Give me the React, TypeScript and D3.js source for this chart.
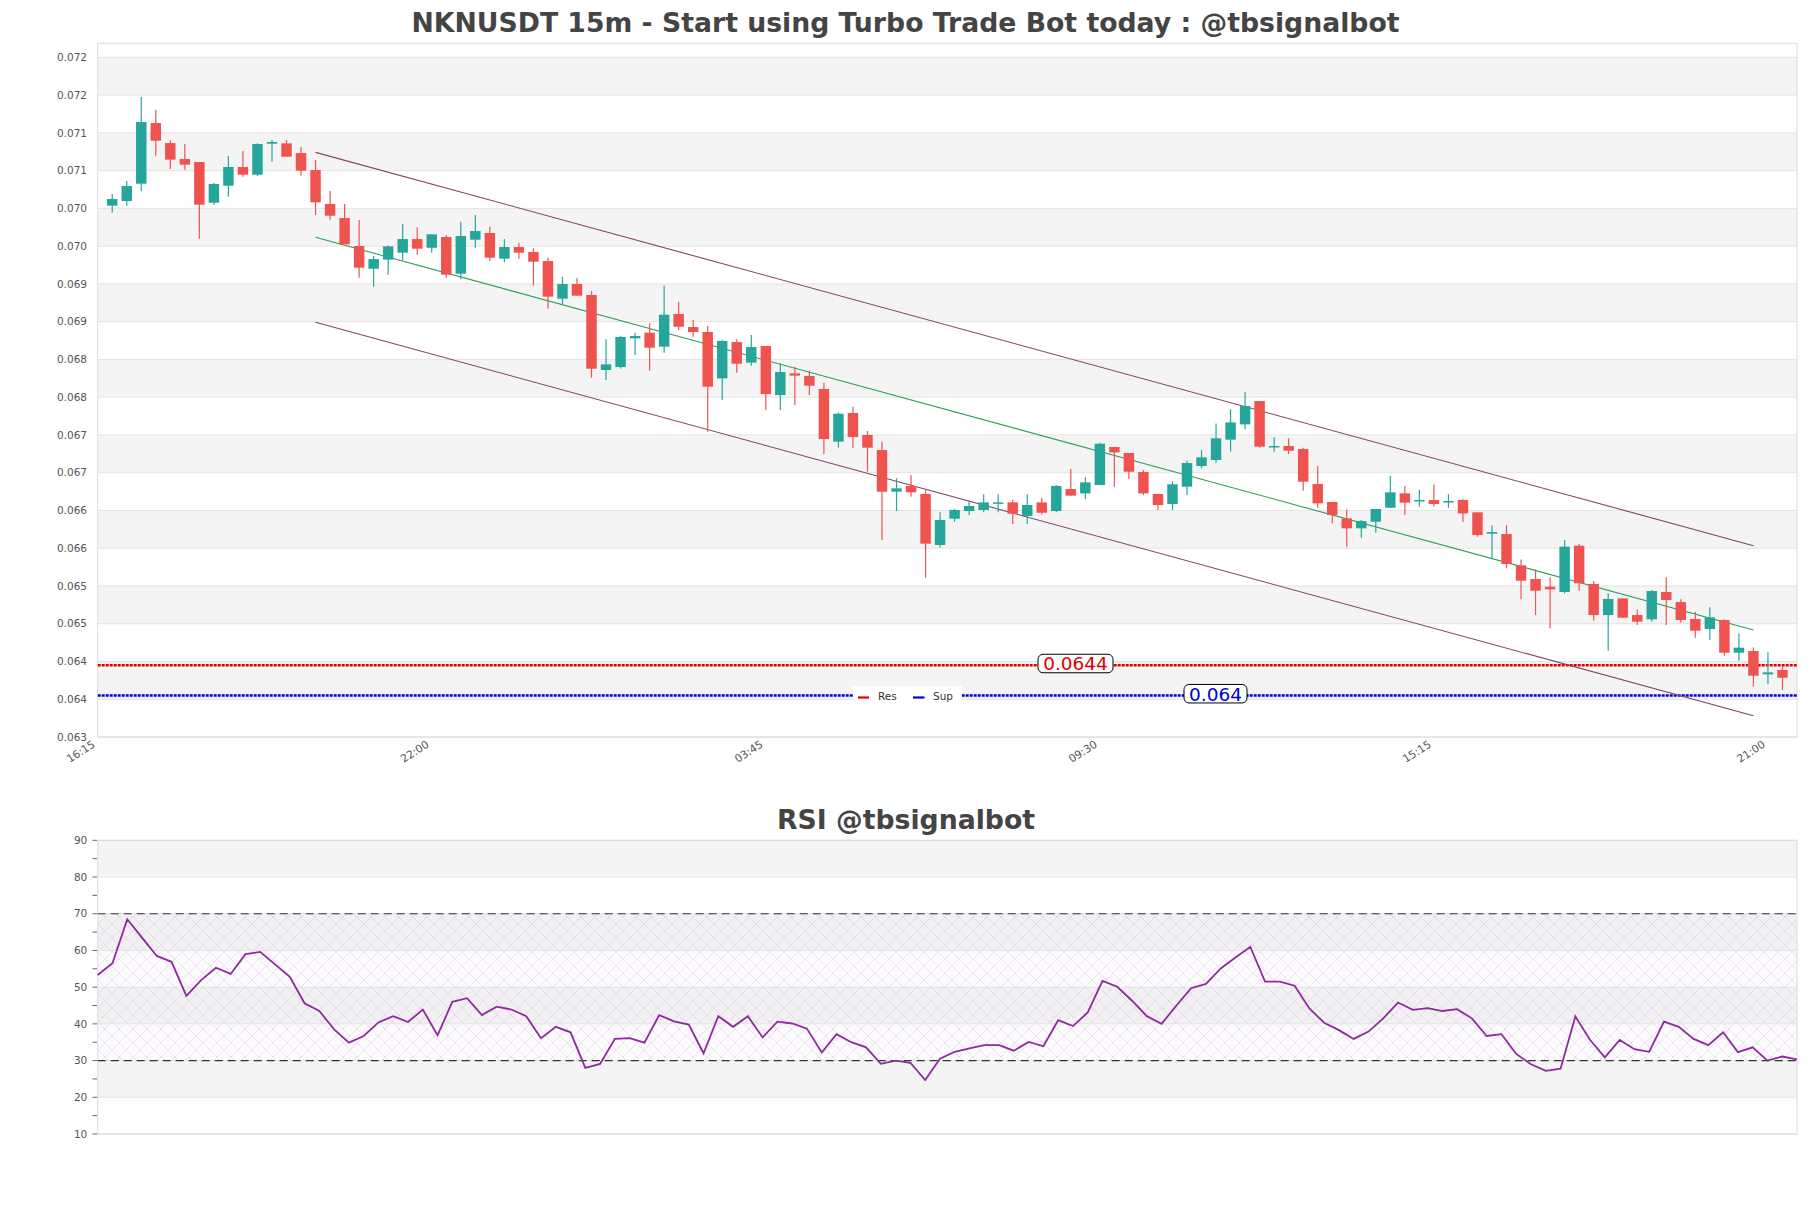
import React from "react";
import * as d3 from "d3";

const W = 1811;
const H = 1208;

// ---- Data ----
const xTickLabels = ["16:15", "22:00", "03:45", "09:30", "15:15", "21:00"];
const xTickPos = [0, 23, 46, 69, 92, 115]; // axis slots (15m steps from 16:15)

const yTickValues = [0.06345, 0.06395, 0.06445, 0.06495, 0.06545, 0.06595, 0.06645, 0.06695, 0.06745, 0.06795, 0.06845, 0.06895, 0.06945, 0.06995, 0.07045, 0.07095, 0.07145, 0.07195, 0.07245];
const yTickLabels = ["0.063", "0.064", "0.064", "0.065", "0.065", "0.066", "0.066", "0.067", "0.067", "0.068", "0.068", "0.069", "0.069", "0.070", "0.070", "0.071", "0.071", "0.072", "0.072"];

const open = [0.070486,0.070547,0.070777,0.07158,0.071315,0.071104,0.071064,0.070525,0.07075,0.070998,0.070896,0.071307,0.071311,0.071183,0.070958,0.070508,0.070322,0.069952,0.069651,0.069771,0.069863,0.070044,0.069929,0.070071,0.069585,0.070035,0.070124,0.069784,0.069938,0.069872,0.069753,0.069254,0.069448,0.069303,0.06831,0.068349,0.068729,0.068804,0.068619,0.069051,0.068879,0.068813,0.068199,0.06868,0.068407,0.068627,0.067979,0.068265,0.06823,0.068058,0.067361,0.06774,0.067449,0.06725,0.066698,0.066774,0.066668,0.065992,0.066341,0.066443,0.066456,0.06654,0.066557,0.066376,0.066557,0.066443,0.066734,0.066676,0.066787,0.06729,0.067211,0.066959,0.066668,0.066535,0.066765,0.067038,0.067118,0.067387,0.06759,0.067899,0.067294,0.067303,0.067263,0.0668,0.066562,0.066345,0.066213,0.066301,0.066486,0.066676,0.066579,0.066588,0.066566,0.066588,0.066425,0.066142,0.066138,0.065723,0.065542,0.06544,0.06537,0.065983,0.065476,0.065065,0.065286,0.065065,0.065008,0.06537,0.065237,0.065012,0.06488,0.064999,0.064566,0.064589,0.06428,0.064337];
const high = [0.07064,0.070812,0.071925,0.071752,0.071351,0.071302,0.071064,0.070786,0.071143,0.07121,0.071311,0.071355,0.071355,0.071262,0.07109,0.07068,0.070508,0.070296,0.069819,0.06996,0.070243,0.070199,0.070106,0.070097,0.070274,0.070362,0.070208,0.070044,0.069991,0.069921,0.069797,0.069545,0.069528,0.069356,0.068716,0.06876,0.068804,0.068928,0.069426,0.069214,0.068972,0.068892,0.068707,0.068716,0.068773,0.068627,0.068398,0.068354,0.068301,0.068142,0.067745,0.067824,0.067502,0.067361,0.066875,0.066919,0.066729,0.066425,0.066469,0.066566,0.066663,0.066663,0.066588,0.066663,0.066619,0.066787,0.066999,0.066888,0.067347,0.06729,0.067211,0.066985,0.066668,0.06684,0.067109,0.06725,0.067603,0.067789,0.068018,0.067899,0.067418,0.067405,0.067281,0.067038,0.066562,0.066464,0.066323,0.066469,0.066906,0.066773,0.06672,0.066795,0.066667,0.066601,0.066425,0.066253,0.066253,0.065802,0.06567,0.065564,0.066058,0.066005,0.065515,0.065352,0.065286,0.06514,0.065396,0.065564,0.065273,0.065109,0.065167,0.065008,0.064822,0.064637,0.064571,0.064381];
const low = [0.070393,0.070486,0.07068,0.071148,0.070971,0.070962,0.070049,0.070499,0.070605,0.07087,0.070878,0.071068,0.071134,0.070883,0.070362,0.0703,0.069974,0.069532,0.069413,0.069572,0.069766,0.069837,0.069863,0.069532,0.06951,0.069929,0.069757,0.06974,0.069784,0.069426,0.069122,0.069184,0.069294,0.068208,0.068177,0.068327,0.068508,0.068301,0.068539,0.068839,0.068751,0.067493,0.067912,0.068274,0.068367,0.06778,0.06778,0.067846,0.067979,0.067197,0.067281,0.067281,0.066963,0.066058,0.066443,0.066632,0.06556,0.065957,0.066301,0.066389,0.066425,0.066425,0.06627,0.06627,0.066398,0.066425,0.066646,0.066602,0.066787,0.066765,0.066866,0.066654,0.066456,0.066456,0.066654,0.067007,0.067082,0.067228,0.067524,0.067281,0.067228,0.067197,0.066712,0.066486,0.066279,0.06597,0.066089,0.066155,0.066486,0.066389,0.0665,0.0665,0.066486,0.066301,0.066102,0.065807,0.065683,0.065273,0.065065,0.064889,0.065352,0.065387,0.06499,0.064593,0.06503,0.064933,0.064977,0.064933,0.064964,0.064765,0.064734,0.064527,0.06446,0.064116,0.064147,0.064072];
const close = [0.070574,0.070746,0.071594,0.071346,0.071095,0.071029,0.070499,0.070773,0.070998,0.070896,0.071302,0.071329,0.071134,0.070949,0.07053,0.070353,0.069974,0.069665,0.069779,0.069947,0.070044,0.069916,0.070106,0.069572,0.070084,0.07015,0.069797,0.069938,0.069863,0.069744,0.069281,0.069448,0.069294,0.068327,0.068385,0.068747,0.06876,0.068605,0.069042,0.068883,0.068813,0.068089,0.068694,0.068393,0.068614,0.067992,0.068283,0.068235,0.068102,0.067396,0.067731,0.067422,0.067281,0.066698,0.066743,0.06669,0.06601,0.066323,0.066456,0.066509,0.066557,0.066557,0.066407,0.066522,0.06642,0.066774,0.066646,0.066822,0.067334,0.067219,0.066963,0.066676,0.066522,0.066796,0.067078,0.067153,0.067405,0.067616,0.067833,0.067294,0.067303,0.067241,0.066831,0.066544,0.066389,0.066213,0.06631,0.066469,0.06669,0.066553,0.066588,0.066535,0.066575,0.066411,0.066125,0.066164,0.065741,0.06552,0.065387,0.065405,0.06597,0.065485,0.065065,0.065277,0.06503,0.064977,0.065383,0.065264,0.064999,0.064858,0.065034,0.064566,0.064633,0.064262,0.064306,0.064235];

// regression channel (candle index -> price)
const channelIdx = [14, 113];
const channelUpper = [0.071192, 0.065983];
const channelMid = [0.070067, 0.064867];
const channelLower = [0.068941, 0.063732];

const resistance = 0.0644;
const support = 0.064;
const resLabel = "0.0644";
const supLabel = "0.064";

const rsi = [53.3,56.5,68.5,63.5,58.5,56.9,47.6,51.9,55.3,53.6,59.0,59.6,56.2,52.8,45.6,43.5,38.5,34.9,36.7,40.4,42.1,40.5,43.9,36.9,46.0,47.0,42.4,44.7,43.9,42.1,36.1,39.2,37.7,28.0,29.1,35.9,36.1,34.9,42.4,40.7,39.8,32.0,42.1,39.2,42.1,36.3,40.6,40.1,38.7,32.2,37.2,35.0,33.6,29.1,30.0,29.4,24.7,30.5,32.4,33.3,34.2,34.2,32.7,35.1,33.9,41.0,39.4,43.1,51.7,50.1,46.3,42.1,40.0,45.0,49.7,50.9,55.1,58.1,61.0,51.5,51.5,50.4,44.2,40.3,38.3,35.9,37.9,41.5,45.8,43.8,44.3,43.5,44.0,41.5,36.7,37.2,31.8,29.0,27.2,27.8,42.0,35.6,30.9,35.6,33.1,32.4,40.6,39.2,35.9,34.2,37.7,32.3,33.6,30.0,31.1,30.3];
const rsiTicks = [10, 20, 30, 40, 50, 60, 70, 80, 90];

const UP = "#26a69a";
const DOWN = "#ef5350";
const FONT = "DejaVu Sans, Verdana, sans-serif";

export default function App() {
  const L = 97.7, R = 1797;
  const mTop = 43.3, mBot = 737;
  const rTop = 840.3, rBot = 1134;

  const x = d3.scaleLinear().domain([0, open.length + 1]).range([L, R]);
  const y = d3.scaleLinear().domain([0.06345, 0.072636]).range([mBot, mTop]);
  const rx = d3.scaleLinear().domain([0, rsi.length - 1]).range([L, R]);
  const ry = d3.scaleLinear().domain([10, 90]).range([rBot, rTop]);

  const step = x(1) - x(0);
  const bw = step * 0.72;

  const rsiLine = d3.line<number>().x((_, i) => rx(i)).y((d) => ry(d))(rsi) || "";

  const chan = (vals: number[]) =>
    d3.line<number>().x((_, i) => x(channelIdx[i] + 1)).y((d) => y(d))(vals) || "";

  const bands = [] as React.ReactNode[];
  for (let k = 0; k < yTickValues.length - 1; k++) {
    if (k % 2 === 1) {
      const y0 = y(yTickValues[k + 1]);
      const y1 = y(yTickValues[k]);
      bands.push(<rect key={"b" + k} x={L} y={y0} width={R - L} height={y1 - y0} fill="#f4f4f4" />);
    }
  }

  const rsiBands = [] as React.ReactNode[];
  for (let k = 0; k < rsiTicks.length - 1; k++) {
    if (k % 2 === 1) {
      const y0 = ry(rsiTicks[k + 1]);
      const y1 = ry(rsiTicks[k]);
      rsiBands.push(<rect key={"rb" + k} x={L} y={y0} width={R - L} height={y1 - y0} fill="#f4f4f4" />);
    }
  }

  const minorR = d3.range(10, 91, 5);

  return (
    <svg width={W} height={H} style={{ position: "absolute", left: 0, top: 0, background: "#fff" }} fontFamily={FONT}>
      <defs>
        <pattern id="hatch" width="14" height="14" patternUnits="userSpaceOnUse">
          <path d="M0,0 L14,14 M14,0 L0,14" stroke="#b4abbd" strokeWidth="0.6" opacity="0.5" fill="none" />
        </pattern>
        <clipPath id="mainClip">
          <rect x={L} y={mTop} width={R - L} height={mBot - mTop} />
        </clipPath>
      </defs>
      <rect x={0} y={0} width={W} height={H} fill="#fff" />

      {/* Title */}
      <text x={905.5} y={32.3} textAnchor="middle" fontSize={26.7} fontWeight="bold" fill="#444">
        NKNUSDT 15m - Start using Turbo Trade Bot today : @tbsignalbot
      </text>

      {/* Main panel background */}
      {bands}
      {yTickValues.map((v, k) => (
        <line key={"g" + k} x1={L} x2={R} y1={y(v)} y2={y(v)} stroke="#e3e3e3" strokeWidth={1} />
      ))}
      <rect x={L} y={mTop} width={R - L} height={mBot - mTop} fill="none" stroke="#dcdcdc" strokeWidth={1} />

      {yTickValues.map((v, k) => (
        <text key={"yl" + k} x={87} y={y(v)} dy="0.35em" textAnchor="end" fontSize={10.5} fill="#555">
          {yTickLabels[k]}
        </text>
      ))}

      {xTickPos.map((p, k) => (
        <text key={"xl" + k} transform={`translate(${x(p) - 4},${mBot + 6}) rotate(-33)`} textAnchor="end" dy="0.35em" fontSize={10.8} fill="#555">
          {xTickLabels[k]}
        </text>
      ))}

      <g clipPath="url(#mainClip)">
        {/* support/resistance */}
        <line x1={L} x2={R} y1={y(resistance)} y2={y(resistance)} stroke="#e00000" strokeWidth={2.6} strokeDasharray="3,1" />
        <line x1={L} x2={R} y1={y(support)} y2={y(support)} stroke="#0000d0" strokeWidth={2.6} strokeDasharray="3,1" />

        {/* channel */}
        <path d={chan(channelUpper)} stroke="#844463" strokeWidth={1.1} fill="none" />
        <path d={chan(channelLower)} stroke="#844463" strokeWidth={1.1} fill="none" />
        <path d={chan(channelMid)} stroke="#2f9e55" strokeWidth={1.1} fill="none" />

        {/* candles */}
        {open.map((o, i) => {
          const c = close[i];
          const col = c >= o ? UP : DOWN;
          const cx = x(i + 1);
          const top = y(Math.max(o, c));
          const bot = y(Math.min(o, c));
          return (
            <g key={"c" + i}>
              <line x1={cx} x2={cx} y1={y(high[i])} y2={y(low[i])} stroke={col} strokeWidth={1.2} />
              <rect x={cx - bw / 2} y={top} width={bw} height={Math.max(1.5, bot - top)} fill={col} />
            </g>
          );
        })}
      </g>

      {/* level labels */}
      <g>
        <rect x={1038} y={y(resistance) - 11} width={75} height={18.5} rx={5} fill="#fff" stroke="#000" strokeWidth={1} />
        <text x={1075.5} y={y(resistance) - 1.5} dy="0.36em" textAnchor="middle" fontSize={18.5} fill="#e00000">{resLabel}</text>
        <rect x={1184} y={y(support) - 11} width={63} height={18.5} rx={5} fill="#fff" stroke="#000" strokeWidth={1} />
        <text x={1215.5} y={y(support) - 1.5} dy="0.36em" textAnchor="middle" fontSize={18.5} fill="#0000d0">{supLabel}</text>
      </g>

      {/* legend */}
      <g>
        <rect x={853} y={686} width={109} height={19} fill="#fff" />
        <line x1={858} x2={869} y1={697.5} y2={697.5} stroke="#e00000" strokeWidth={2.2} />
        <text x={878} y={696} dy="0.35em" fontSize={10.5} fill="#333">Res</text>
        <line x1={913} x2={924.5} y1={697.5} y2={697.5} stroke="#0000d0" strokeWidth={2.2} />
        <text x={933} y={696} dy="0.35em" fontSize={10.5} fill="#333">Sup</text>
      </g>

      {/* RSI panel */}
      <text x={906} y={829.3} textAnchor="middle" fontSize={26.7} fontWeight="bold" fill="#444">
        RSI @tbsignalbot
      </text>
      {rsiBands}
      <rect x={L} y={ry(70)} width={R - L} height={ry(30) - ry(70)} fill="url(#hatch)" />
      <rect x={L} y={ry(70)} width={R - L} height={ry(30) - ry(70)} fill="#eee0f2" opacity={0.15} />
      {rsiTicks.map((v) => (
        <line key={"rg" + v} x1={L} x2={R} y1={ry(v)} y2={ry(v)} stroke="#e3e3e3" strokeWidth={1} />
      ))}
      <rect x={L} y={rTop} width={R - L} height={rBot - rTop} fill="none" stroke="#dcdcdc" strokeWidth={1} />
      <line x1={L} x2={R} y1={ry(70)} y2={ry(70)} stroke="#333" strokeWidth={1.2} strokeDasharray="8,5" />
      <line x1={L} x2={R} y1={ry(30)} y2={ry(30)} stroke="#333" strokeWidth={1.2} strokeDasharray="8,5" />
      {minorR.map((v) => (
        <line key={"rt" + v} x1={92.5} x2={97} y1={ry(v)} y2={ry(v)} stroke="#666" strokeWidth={1} />
      ))}
      {rsiTicks.map((v) => (
        <text key={"rl" + v} x={87.3} y={ry(v)} dy="0.35em" textAnchor="end" fontSize={10.5} fill="#555">
          {v}
        </text>
      ))}
      <path d={rsiLine} stroke="#8e2a9e" strokeWidth={1.8} fill="none" />
    </svg>
  );
}
